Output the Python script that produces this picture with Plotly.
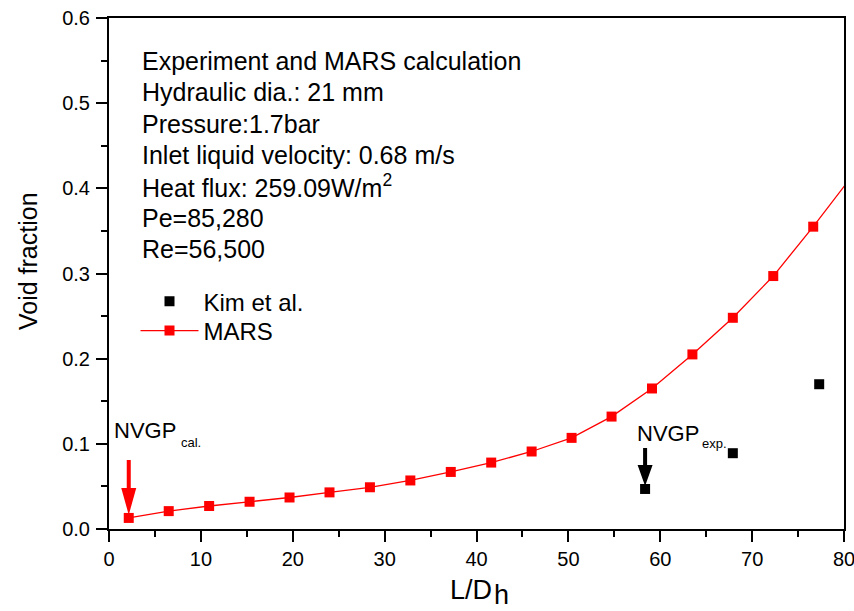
import plotly.graph_objects as go

# MARS calculation: axial location (L/Dh) and void fraction
mars_x = [2.15, 6.5, 10.9, 15.3, 19.65, 24.0, 28.4, 32.8, 37.2, 41.6,
          46.0, 50.35, 54.7, 59.1, 63.5, 67.9, 72.3, 76.65, 81.05]
mars_y = [0.013, 0.021, 0.027, 0.032, 0.037, 0.043, 0.049, 0.057, 0.067, 0.078,
          0.091, 0.107, 0.132, 0.165, 0.205, 0.248, 0.297, 0.355, 0.417]

# Kim et al. measurements
kim_x = [58.35, 67.9, 77.3]
kim_y = [0.047, 0.089, 0.170]

x_ticks = [0, 10, 20, 30, 40, 50, 60, 70, 80]
y_ticks = [0.0, 0.1, 0.2, 0.3, 0.4, 0.5, 0.6]

info_lines = [
    "Experiment and MARS calculation",
    "Hydraulic dia.: 21 mm",
    "Pressure:1.7bar",
    "Inlet liquid velocity: 0.68 m/s",
    "Heat flux: 259.09W/m<sup>2</sup>",
    "Pe=85,280",
    "Re=56,500",
]

FONT = "Arial, Liberation Sans, sans-serif"
W, H = 854, 611
L, R, T, B = 109, 10, 18, 82
PW, PH = W - L - R, H - T - B


def px(p):
    return (p - L) / PW


def py(p):
    return (H - B - p) / PH


fig = go.Figure()
fig.add_trace(go.Scatter(
    x=kim_x, y=kim_y, mode="markers", name="Kim et al.", legend="legend",
    marker=dict(symbol="square", size=10, color="black"),
))
fig.add_trace(go.Scatter(
    x=mars_x, y=mars_y, mode="lines+markers", name="MARS", legend="legend2",
    line=dict(color="#ff0000", width=1.3),
    marker=dict(symbol="square", size=10, color="#ff0000"),
))


def arrow_path(tip, head_base, top, head_half=7.5, shaft_half=2.0):
    return (f"M0,{tip} L{-head_half},{head_base} L{-shaft_half},{head_base} "
            f"L{-shaft_half},{top} L{shaft_half},{top} L{shaft_half},{head_base} "
            f"L{head_half},{head_base} Z")


# onset-of-void markers drawn above the first points of each series
fig.add_shape(type="path", xref="x", yref="y", xsizemode="pixel", ysizemode="pixel",
              xanchor=mars_x[0], yanchor=mars_y[0],
              path=arrow_path(3, 30, 58), fillcolor="#ff0000", line=dict(width=0))
fig.add_shape(type="path", xref="x", yref="y", xsizemode="pixel", ysizemode="pixel",
              xanchor=kim_x[0], yanchor=kim_y[0],
              path=arrow_path(3, 24, 41), fillcolor="black", line=dict(width=0))


def label(text, left, baseline, size, **kw):
    # place a left-aligned single line by its baseline (pixels from top-left)
    fig.add_annotation(text=text, xref="paper", yref="paper",
                       x=px(left), y=py(baseline - 0.4 * size),
                       xanchor="left", yanchor="middle", showarrow=False, borderpad=0,
                       font=dict(family=FONT, size=size, color="black"), **kw)


label("NVGP", 113, 439, 22)
label("cal.", 180, 448, 13)
label("NVGP", 636, 442, 22)
label("exp.", 701, 449, 13)

for i, line in enumerate(info_lines):
    label(line, 141, 71 + 31.3 * i, 25)

# axis titles
label("L/D", 449, 601, 27)
label("h", 493, 606, 27)
fig.add_annotation(text="Void fraction", xref="paper", yref="paper",
                   x=px(28), y=py(261), xanchor="center", yanchor="middle",
                   textangle=-90, showarrow=False,
                   font=dict(family=FONT, size=25, color="black"))

axis_common = dict(
    showgrid=False, zeroline=False, showline=True, linewidth=2, linecolor="black",
    mirror=True, ticks="outside", ticklen=11, tickwidth=2, tickcolor="black",
    tickfont=dict(family=FONT, size=20, color="black"), ticklabeloverflow="allow",
)

x_step = x_ticks[1] - x_ticks[0]
y_step = y_ticks[1] - y_ticks[0]

fig.update_xaxes(range=[x_ticks[0], x_ticks[-1]], tickmode="linear",
                 tick0=x_ticks[0], dtick=x_step, tickformat="d",
                 minor=dict(ticks="outside", ticklen=6, tickwidth=2,
                            tick0=x_ticks[0], dtick=x_step / 2, tickcolor="black"),
                 **axis_common)
fig.update_yaxes(range=[y_ticks[0], y_ticks[-1]], tickmode="linear",
                 tick0=y_ticks[0], dtick=y_step, tickformat=".1f",
                 minor=dict(ticks="outside", ticklen=6, tickwidth=2,
                            tick0=y_ticks[0], dtick=y_step / 2, tickcolor="black"),
                 ticklabelstandoff=2,
                 **axis_common)

legend_style = dict(xanchor="left", yanchor="middle", bgcolor="rgba(0,0,0,0)",
                    font=dict(family=FONT, size=24, color="black"), itemwidth=58)

fig.update_layout(
    width=W, height=H,
    margin=dict(l=L, r=R, t=T, b=B, autoexpand=False),
    paper_bgcolor="white", plot_bgcolor="white",
    font=dict(family=FONT, color="black"),
    showlegend=True,
    legend=dict(x=px(135.5), y=py(301.7), **legend_style),
    legend2=dict(x=px(135.5), y=py(331), **legend_style),
)

fig.write_html("out.html")
